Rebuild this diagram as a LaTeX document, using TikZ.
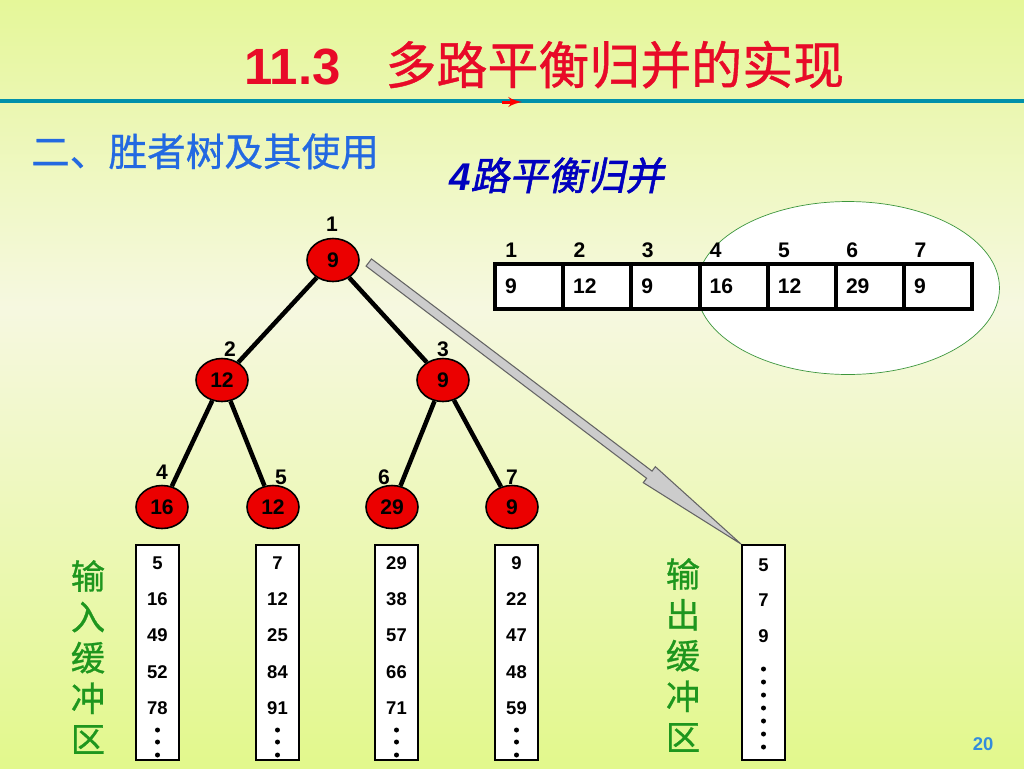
\documentclass[tikz,border=0pt]{standalone}
\usepackage{fontspec}
\setmainfont{Liberation Sans}
\newfontfamily\cjk[FakeBold=0.8]{Noto Sans CJK SC}
\newfontfamily\cjkbi[FakeSlant=0.2,FakeBold=1.5]{Noto Sans CJK SC}
\usetikzlibrary{positioning}
\usetikzlibrary{arrows}
\usetikzlibrary{calc,shapes.geometric}

\definecolor{bgtop}{RGB}{229,247,153}
\definecolor{bgmid}{RGB}{246,248,224}
\definecolor{bgbot}{RGB}{226,248,140}
\definecolor{titlered}{RGB}{232,10,40}
\definecolor{rulecol}{RGB}{0,145,170}
\definecolor{subblue}{RGB}{35,105,225}
\definecolor{darkblue}{RGB}{0,0,190}
\definecolor{nodered}{RGB}{235,0,0}
\definecolor{ovalgreen}{RGB}{60,150,60}
\definecolor{labgreen}{RGB}{30,150,30}
\definecolor{arrowgray}{RGB}{204,204,204}
\definecolor{arrowline}{RGB}{100,100,100}
\definecolor{pageblue}{RGB}{50,140,220}
\pgfdeclareverticalshading{slidebg}{100bp}{color(0bp)=(bgbot); color(25bp)=(bgbot); color(55bp)=(bgmid); color(75bp)=(bgtop); color(100bp)=(bgtop)}

\begin{document}
\begin{tikzpicture}[x=0.02cm,y=-0.02cm,>=latex']
    \tikzset{tnode/.style= {draw, ellipse, line width=0.9pt, fill=nodered, inner sep=0, minimum width=1.04cm, minimum height=0.86cm, font=\bfseries\fontsize{12}{14}\selectfont},
             idx/.style= {inner sep=0, font=\bfseries\fontsize{12}{14}\selectfont},
             cellbox/.style= {draw, line width=0.08cm, fill=white, outer sep=0, inner xsep=0.2cm, text width=0.964cm, align=left, minimum height=0.9cm, font=\bfseries\fontsize{12}{14}\selectfont},
             bufbox/.style= {draw, line width=0.04cm, fill=white, minimum width=0.86cm, minimum height=4.3cm},
             bufval/.style= {inner sep=0, font=\bfseries\fontsize{10.5}{12}\selectfont},
             greenlab/.style= {text=labgreen, align=center, font=\cjk\fontsize{19.5}{23.2}\selectfont},}

    \useasboundingbox (0,0) rectangle (1024,768);
    \shade[shading=slidebg] (0,0) rectangle (1024,768);

    \node[anchor=base west, text=titlered, font=\fontsize{29}{34}\selectfont] (title) at (238,84) {\textbf{11.3}\hspace{0.9cm}{\cjk 多路平衡归并的实现}};
    \coordinate (rl) at (0,101);
    \coordinate (rr) at (1024,101);
    \draw[rulecol, line width=0.07cm] (rl) -- (rr);
    \coordinate (ra) at (502,102);
    \coordinate (rb) at (522,102);
    \draw[->, red, line width=0.06cm] (ra) -- (rb);

    \node[anchor=base west, text=subblue, font=\cjk\fontsize{22}{26}\selectfont] (sub) at (25,166) {二、胜者树及其使用};
    \node[anchor=base west, text=darkblue, font=\fontsize{22}{26}\selectfont] (head) at (443,190) {\textbf{\textit{4}}{\cjkbi 路平衡归并}};

    \node[ellipse, draw=ovalgreen, fill=white, inner sep=0, minimum width=6.06cm, minimum height=3.46cm] (oval) at (848,288) {};
    \foreach \v [count=\i] in {9,12,9,16,12,29,9}
        \node[cellbox] (c\i) at ({529.1+68.2*(\i-1)},286) {\v};
    \foreach \i in {1,...,7}
        \node[idx, above right=0.11cm and 0.2cm of c\i.north west] (ci\i) {\i};

    \node[tnode] (n1) at (333,260) {9};
    \node[tnode] (n2) at (222,380) {12};
    \node[tnode] (n3) at (443,380) {9};
    \node[tnode] (n4) at (162,507) {16};
    \node[tnode] (n5) at (273,507) {12};
    \node[tnode] (n6) at (392,507) {29};
    \node[tnode] (n7) at (512,507) {9};

    \node[idx] (t1) at (332,224) {1};
    \node[idx] (t2) at (230,349) {2};
    \node[idx] (t3) at (443,349) {3};
    \node[idx] (t4) at (162,472) {4};
    \node[idx] (t5) at (281,477) {5};
    \node[idx] (t6) at (384,477) {6};
    \node[idx] (t7) at (512,477) {7};

    \path[draw,line width=0.09cm]
                (n1) edge (n2)
                (n1) edge (n3)
                (n2) edge (n4)
                (n2) edge (n5)
                (n3) edge (n6)
                (n3) edge (n7)
                ;

    \foreach \x/\vals [count=\k] in {157.5/{5,16,49,52,78}, 277.5/{7,12,25,84,91}, 396.5/{29,38,57,66,71}, 516.5/{9,22,47,48,59}} {
        \node[bufbox] (in\k) at (\x,652.5) {};
        \foreach \v [count=\i] in \vals
            \node[bufval] (v\k\i) at (\x,{563+36.25*(\i-1)}) {\v};
        \foreach \d in {730,742,755}
            \fill (\x,\d) circle (0.05cm);
    }

    \node[bufbox] (out) at (763.5,652.5) {};
    \foreach \v [count=\i] in {5,7,9}
        \node[bufval] (o\i) at (763.5,{565+35.5*(\i-1)}) {\v};
    \foreach \i in {0,...,6}
        \fill (763.5,{669+13*\i}) circle (0.05cm);

    \node[greenlab] (inlab) at (88,657) {输\\入\\缓\\冲\\区};
    \node[greenlab] (outlab) at (683,655) {输\\出\\缓\\冲\\区};

    \coordinate (as) at ($(n1.east)+(0.18cm,-0.05cm)$);
    \coordinate (at) at (out.north west);
    \coordinate (ah) at ($(at)!2.3cm!(as)$);
    \path[fill=arrowgray, draw=arrowline, line width=0.6pt]
        ($(as)!0.09cm!90:(at)$) -- ($(ah)!0.09cm!-90:(as)$) -- ($(ah)!0.2cm!-90:(as)$) -- (at)
        -- ($(ah)!0.2cm!90:(as)$) -- ($(ah)!0.09cm!90:(as)$) -- ($(as)!0.09cm!-90:(at)$) -- cycle;

    \node[text=pageblue, font=\bfseries\fontsize{10.5}{12}\selectfont] (pg) at (983,744) {20};
\end{tikzpicture}
\end{document}
